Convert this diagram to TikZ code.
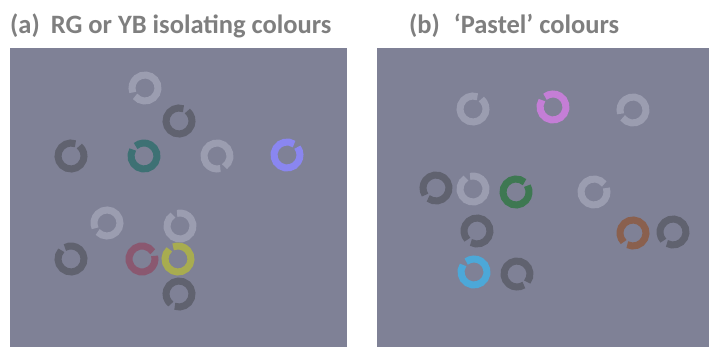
\documentclass[tikz,border=0pt]{standalone}
\usepackage{fontspec}
\setmainfont{Carlito}
\definecolor{bgc}{RGB}{127,129,150}
\definecolor{ttl}{RGB}{127,127,127}
\definecolor{lgt}{RGB}{155,157,176}
\definecolor{drk}{RGB}{96,98,111}
\definecolor{teal}{RGB}{62,113,116}
\definecolor{bpur}{RGB}{138,134,240}
\definecolor{maro}{RGB}{138,88,112}
\definecolor{ygrn}{RGB}{168,172,80}
\definecolor{pink}{RGB}{196,126,214}
\definecolor{grn}{RGB}{62,120,82}
\definecolor{lblu}{RGB}{76,168,216}
\definecolor{brwn}{RGB}{138,96,78}
\tikzset{
  panel/.style={fill=bgc, draw=none},
  title/.style={anchor=base west, inner sep=0pt, text=ttl, font=\bfseries\fontsize{26.5}{30}\selectfont},
  ringline/.style={line width=7pt, line cap=butt}
}
\newcommand{\ringat}[5]{% name, x, y(px from top), colour, gap angle
  \coordinate (#1) at (#2,-#3);
  \draw[ringline, #4] ([shift={({#5+10}:13)}]#1) arc[start angle={#5+10}, end angle={#5+350}, radius=13];
}
\begin{document}
\begin{tikzpicture}[x=1pt,y=1pt]
\useasboundingbox (0,0) rectangle (709,-347);
\fill[white] (0,0) rectangle (709,-347);
\path[panel] (10,-48) rectangle (347,-347);
\path[panel] (377,-48) rectangle (709,-347);
\node[title] (ta) at (10,-34) {(a)\hspace{5pt} RG or YB isolating colours};
\node[title] (tb) at (409,-34) {(b)\hspace{8pt} ‘Pastel’ colours};
% left panel
\ringat{a1}{145}{88}{lgt}{210}
\ringat{a2}{179}{121}{drk}{60}
\ringat{a3}{71}{156}{drk}{60}
\ringat{a4}{144}{156}{teal}{140}
\ringat{a5}{217}{156}{lgt}{-65}
\ringat{a6}{287}{155}{bpur}{47}
\ringat{a7}{107}{223}{lgt}{214}
\ringat{a8}{180}{226}{lgt}{113}
\ringat{a9}{71}{259}{drk}{128}
\ringat{a10}{142}{259}{maro}{24}
\ringat{a11}{178}{259}{ygrn}{122}
\ringat{a12}{179}{294}{drk}{241}
% right panel
\ringat{b1}{473}{109}{lgt}{60}
\ringat{b2}{553}{107}{pink}{138}
\ringat{b3}{633}{110}{lgt}{207}
\ringat{b4}{436}{188}{drk}{223}
\ringat{b5}{473}{189}{lgt}{113}
\ringat{b6}{516}{192}{grn}{39}
\ringat{b7}{477}{231}{drk}{232}
\ringat{b8}{474}{272}{lblu}{137}
\ringat{b9}{517}{274}{drk}{-48}
\ringat{b10}{594}{192}{lgt}{28}
\ringat{b11}{633}{233}{brwn}{234}
\ringat{b12}{673}{232}{drk}{232}
\end{tikzpicture}
\end{document}
